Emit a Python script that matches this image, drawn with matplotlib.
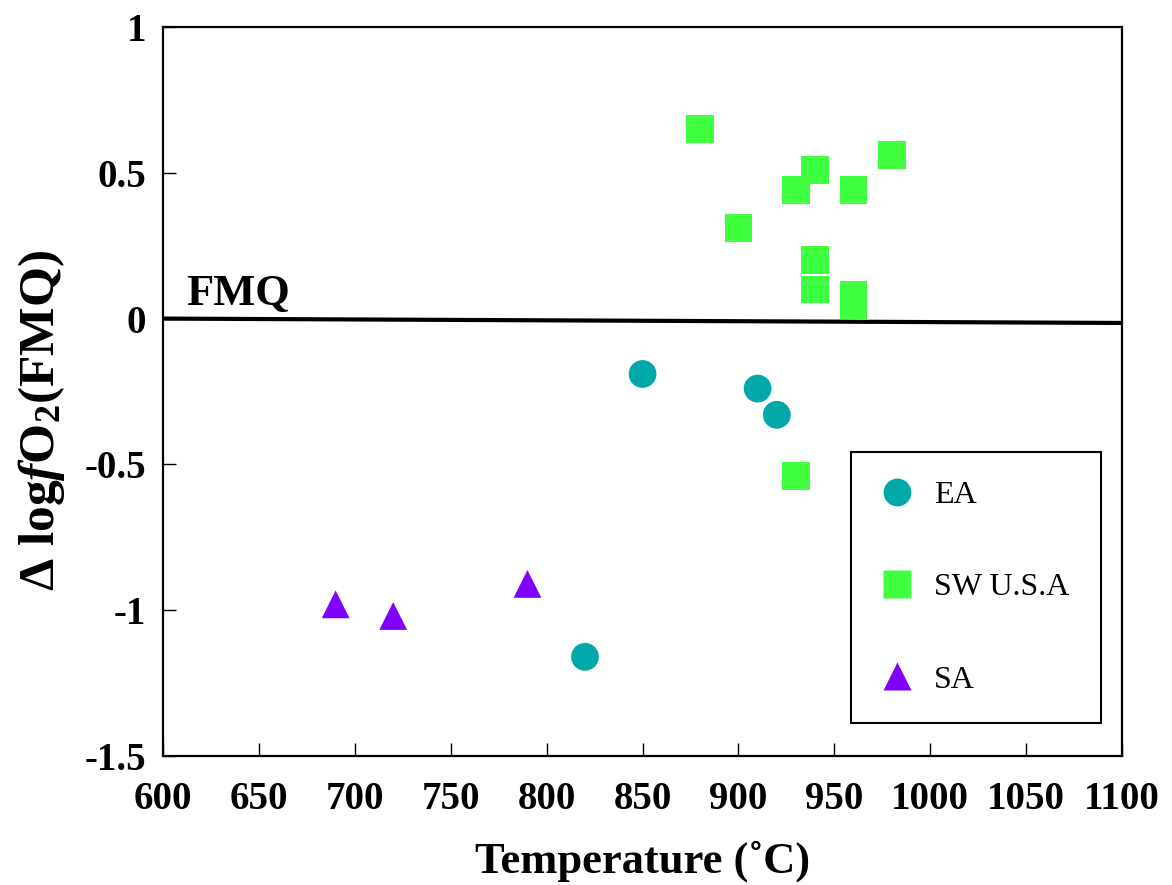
import matplotlib
matplotlib.use("Agg")
import matplotlib.pyplot as plt
from matplotlib.lines import Line2D

plt.rcParams['font.family'] = ['Liberation Serif', 'DejaVu Serif']
plt.rcParams['font.weight'] = 'bold'
plt.rcParams['mathtext.fontset'] = 'custom'
plt.rcParams['mathtext.rm'] = 'Liberation Serif:bold'
plt.rcParams['mathtext.it'] = 'Liberation Serif:italic:bold'
plt.rcParams['mathtext.bf'] = 'Liberation Serif:bold'

# EA
ea_t = [850, 910, 920, 820]
ea_dlog = [-0.19, -0.24, -0.33, -1.16]
# SW U.S.A
sw_t = [880, 900, 930, 940, 960, 980, 940, 940, 960, 960, 930]
sw_dlog = [0.65, 0.31, 0.44, 0.51, 0.44, 0.56, 0.20, 0.10, 0.08, 0.045, -0.54]
# SA
sa_t = [690, 720, 790]
sa_dlog = [-0.98, -1.02, -0.91]

# FMQ buffer line
fmq_t = [600, 1100]
fmq_dlog = [0.0, -0.015]

xticks = [600, 650, 700, 750, 800, 850, 900, 950, 1000, 1050, 1100]
yticks = [-1.5, -1, -0.5, 0, 0.5, 1]
ytick_labels = ['-1.5', '-1', '-0.5', '0', '0.5', '1']

c_ea = '#00A8A8'
c_sw = '#40FF40'
c_sa = '#7F00FF'

fig = plt.figure(figsize=(11.72, 8.85), dpi=100)
ax = fig.add_axes([0.1391, 0.1458, 0.8183, 0.8237])

ax.plot(fmq_t, fmq_dlog, color='black', lw=3, solid_capstyle='butt', zorder=2)
ax.text(612, 0.045, 'FMQ', fontsize=32, fontweight='bold', ha='left', va='baseline')

ms = 20
ax.scatter(ea_t, ea_dlog, s=ms**2, marker='o', color=c_ea, edgecolors='none', zorder=3)
ax.scatter(sw_t, sw_dlog, s=ms**2, marker='s', color=c_sw, edgecolors='none', zorder=3)
ax.scatter(sa_t, sa_dlog, s=ms**2, marker='^', color=c_sa, edgecolors='none', zorder=3)

ax.set_xlim(600, 1100)
ax.set_ylim(-1.5, 1)
ax.set_xticks(xticks)
ax.set_xticklabels([str(v) for v in xticks])
ax.set_yticks(yticks)
ax.set_yticklabels(ytick_labels)
ax.tick_params(direction='in', length=9.5, width=1, labelsize=28)
ax.tick_params(axis='x', pad=18)
ax.tick_params(axis='y', pad=12)
for sp in ax.spines.values():
    sp.set_linewidth(1.6)

ax.set_xlabel('Temperature (˚C)', fontsize=32, fontweight='bold', labelpad=16)
ax.set_ylabel('Δ log$\\mathit{f}$O$_2$(FMQ)', fontsize=37, fontweight='bold')
ax.yaxis.set_label_coords(-0.10, 0.46)

handles = [
    Line2D([], [], ls='none', marker='o', ms=ms, color=c_ea, mec='none'),
    Line2D([], [], ls='none', marker='s', ms=ms, color=c_sw, mec='none'),
    Line2D([], [], ls='none', marker='^', ms=ms, color=c_sa, mec='none'),
]
leg = ax.legend(handles, ['EA', 'SW U.S.A', 'SA'], loc='upper left',
                bbox_to_anchor=(0.717, 0.04, 0.261, 0.377), mode='expand',
                borderaxespad=0, frameon=True, fancybox=False,
                framealpha=1, edgecolor='black',
                prop={'family': 'Liberation Serif', 'weight': 'normal', 'size': 23},
                borderpad=0.9, labelspacing=1.97, handlelength=1.1,
                handletextpad=0.6)
leg.get_frame().set_linewidth(1.5)

fig.savefig('out.png', dpi=100)
